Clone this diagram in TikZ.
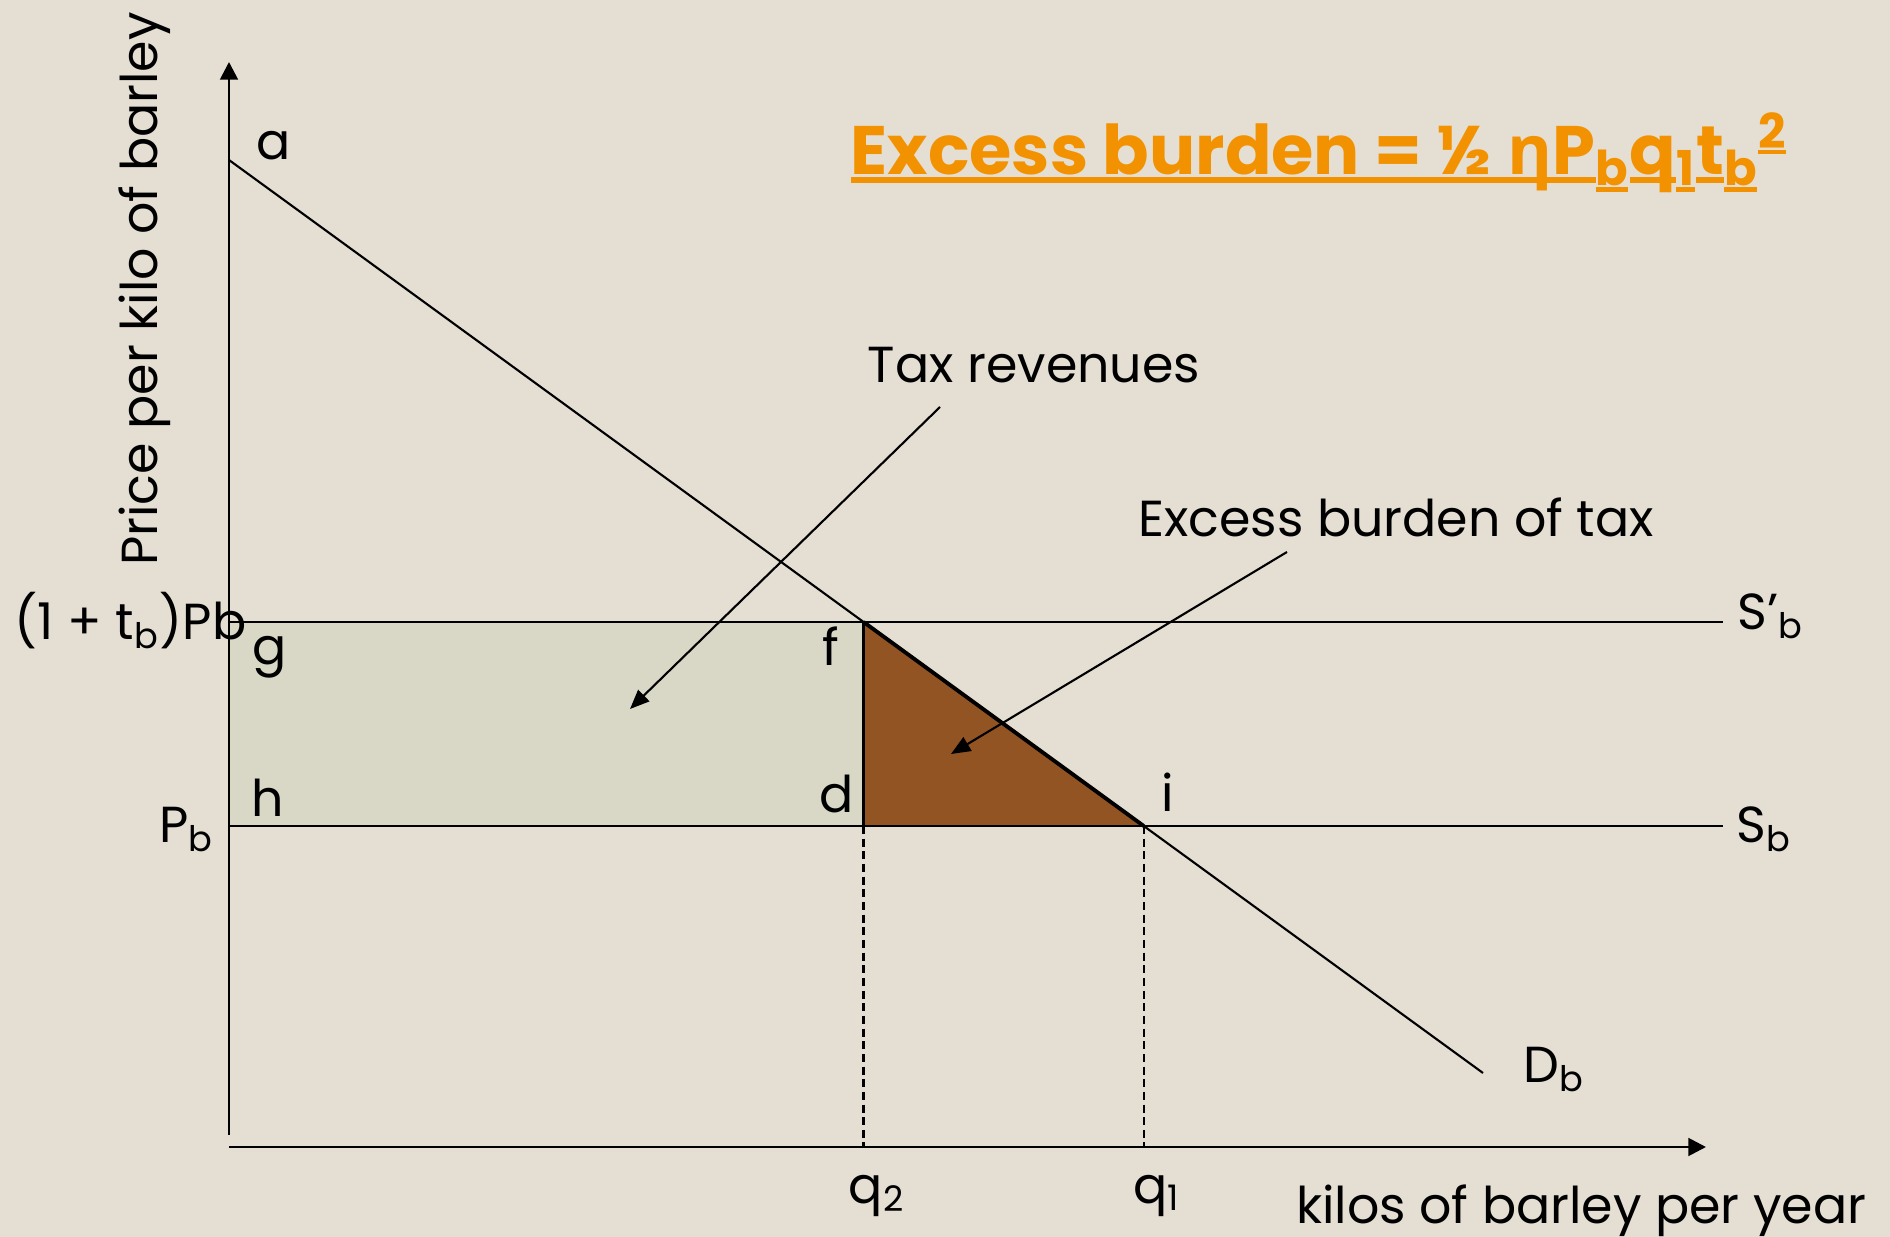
\documentclass[tikz,border=0pt]{standalone}
\usepackage{fontspec}
\setmainfont{Poppins}
\newfontfamily\greekfont{Open Sans}
\usetikzlibrary{calc, positioning}
\usetikzlibrary{arrows.meta}

\definecolor{paper}{HTML}{E4DED3}
\definecolor{revenue}{HTML}{D9D8C6}
\definecolor{burden}{HTML}{935423}
\definecolor{headline}{HTML}{F39200}

% underline one run of text at its own baseline
\newcommand\ulrun[1]{\setbox0=\hbox{#1}\rlap{\rule[-0.12em]{\wd0}{0.09em}}\box0}

\tikzset{
  lbl/.style={inner sep=0pt, font=\fontsize{14.4}{16}\selectfont},
  curve/.style={line width=0.6pt},
  axis/.style={line width=0.8pt, -{Triangle[length=5pt, width=5pt]}},
  leader/.style={line width=0.6pt, -{Triangle[length=5.5pt, width=4.5pt]}},
  guide/.style={line width=0.6pt, dash pattern=on 2.3pt off 1.3pt},
}

\begin{document}
\begin{tikzpicture}[x=0.01cm, y=-0.01cm]
\def\ytax{622}
\def\ybase{826}
\def\xend{1723}

\fill[paper] (0,0) rectangle (1890,1237);
\useasboundingbox (0,0) rectangle (1890,1237);

\coordinate (O) at (229,1147);
\coordinate (A) at (229,160);
\coordinate (D) at (1483,1073);
\coordinate (F) at ($(A)!{(\ytax-160)/(1073-160)}!(D)$);
\coordinate (I) at ($(A)!{(\ybase-160)/(1073-160)}!(D)$);
\coordinate (G) at (229,\ytax);
\coordinate (H) at (229,\ybase);
\coordinate (Dq) at (F |- H);

% shaded areas
\fill[revenue] (G) rectangle (Dq);
\fill[burden] (F) -- (Dq) -- (I) -- cycle;

% axes
\draw[axis] (229,1135) -- (229,62);
\draw[axis] (O) -- (1706,1147);

% supply, tax and demand lines
\draw[curve] (G) -- (\xend,\ytax);
\draw[curve] (H) -- (\xend,\ybase);
\draw[curve] (A) -- (D);
\draw[line width=1.1pt] (F) -- (I);
\draw[curve] (F) -- (Dq);
\draw[guide] (Dq) -- (Dq |- O);
\draw[guide] (I) -- (I |- O);

% point labels
\node[lbl, anchor=base] (la) at (274,160) {a};
\node[lbl, anchor=base] (lg) at (270,665) {g};
\node[lbl, anchor=base] (lh) at (268,817) {h};
\node[lbl, anchor=base] (lf) at (831,666) {f};
\node[lbl, anchor=base] (ld) at (837,813) {d};
\node[lbl, anchor=base] (li) at (1168,812) {i};
\node[lbl, anchor=base east] (ptax) at (247,640) {(1 + t\textsubscript{b})Pb};
\node[lbl, anchor=base east] (pb) at (215,843) {P\textsubscript{b}};
\node[lbl, anchor=base west] (stax) at (1737,630) {S’\textsubscript{b}};
\node[lbl, anchor=base west] (sb) at (1736,843) {S\textsubscript{b}};
\node[lbl, anchor=base west] (db) at (1523,1083) {D\textsubscript{b}};
\node[lbl, anchor=base] (q2) at (877,1203) {q\textsubscript{2}};
\node[lbl, anchor=base] (q1) at (1157,1203) {q\textsubscript{1}};

% axis titles
\node[lbl, anchor=base east] (xlab) at (1867,1224) {kilos of barley per year};
\node[lbl, anchor=base, rotate=90] (ylab) at (157,289) {Price per kilo of barley};

% callouts
\node[lbl, anchor=base] (trev) at (1034,383) {Tax revenues};
\node[lbl, anchor=base] (eb) at (1396,537) {Excess burden of tax};
\coordinate (trevfrom) at (940,407);
\coordinate (trevto) at (630,709);
\coordinate (ebfrom) at (1287,552);
\coordinate (ebto) at (951,754);
\draw[leader] (trevfrom) -- (trevto);
\draw[leader] (ebfrom) -- (ebto);

\node[inner sep=0pt, anchor=base west, text=headline,
  font=\fontsize{19.5}{23}\selectfont\bfseries] (title) at (850,175)
  {\ulrun{Excess burden = ½ }{\greekfont\bfseries\ulrun{η}}\ulrun{P}\textsubscript{\ulrun{b}}\ulrun{q}\textsubscript{\ulrun{1}}\ulrun{t}\textsubscript{\ulrun{b}}\textsuperscript{\ulrun{2}}};
\end{tikzpicture}
\end{document}
